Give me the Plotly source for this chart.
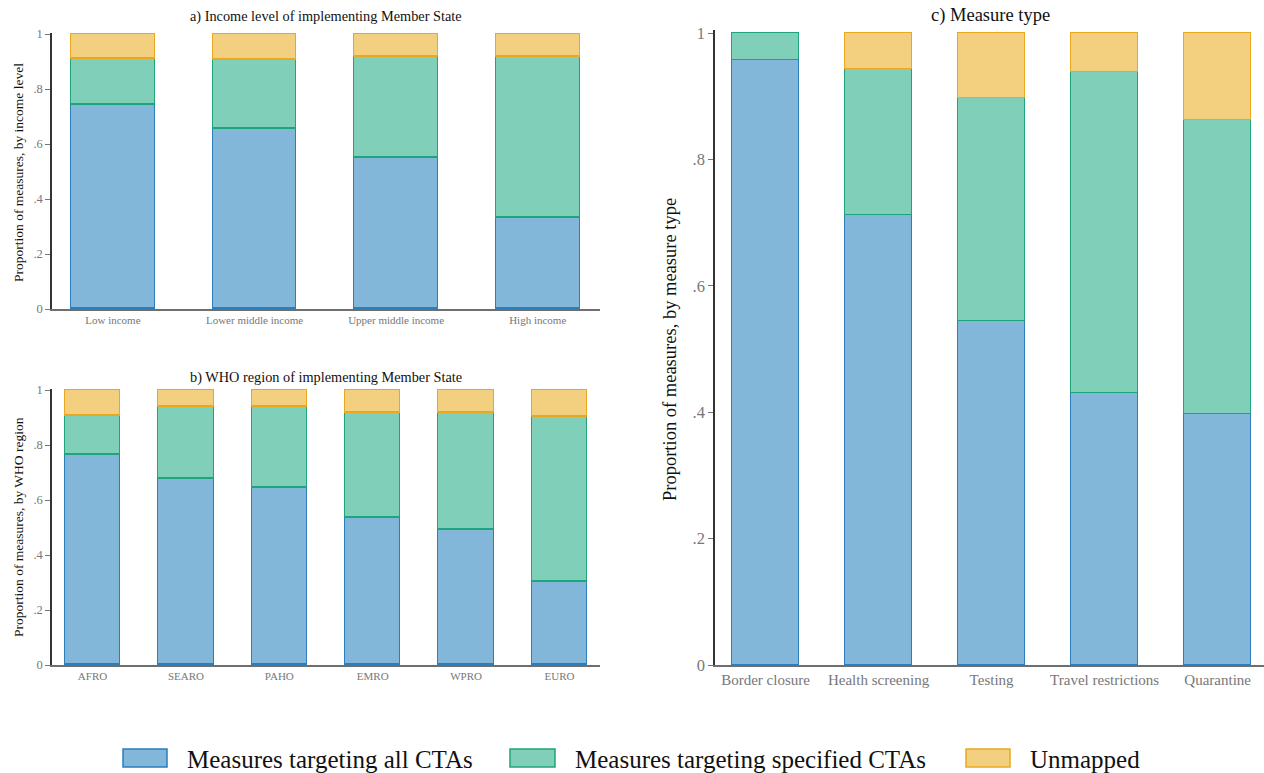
import plotly.graph_objects as go

# ---- data: share of measures in each category (stacked segments sum to 1) ----
income_levels = ["Low income", "Lower middle income", "Upper middle income", "High income"]
income_all = [0.742, 0.655, 0.549, 0.331]
income_specified = [0.167, 0.250, 0.369, 0.584]
income_unmapped = [0.091, 0.095, 0.082, 0.085]

who_regions = ["AFRO", "SEARO", "PAHO", "EMRO", "WPRO", "EURO"]
region_all = [0.764, 0.675, 0.645, 0.535, 0.493, 0.303]
region_specified = [0.141, 0.265, 0.292, 0.380, 0.422, 0.599]
region_unmapped = [0.095, 0.060, 0.063, 0.085, 0.085, 0.098]

measure_types = ["Border closure", "Health screening", "Testing", "Travel restrictions", "Quarantine"]
measure_all = [0.957, 0.712, 0.543, 0.430, 0.397]
measure_specified = [0.043, 0.231, 0.353, 0.507, 0.464]
measure_unmapped = [0.000, 0.057, 0.104, 0.063, 0.139]

y_ticks = [0, 0.2, 0.4, 0.6, 0.8, 1]
y_tick_text = ["0", ".2", ".4", ".6", ".8", "1"]

series_names = ["Measures targeting all CTAs", "Measures targeting specified CTAs", "Unmapped"]
fills = ["#82b7d9", "#80cfb8", "#f2d080"]
edges = ["#2b7dbc", "#1fa57b", "#eaa820"]

W, H = 1264, 773
SERIF = "Liberation Serif"


def px_x(x):
    return x / W


def px_y(y):
    return 1 - y / H


fig = go.Figure()

panels = [
    ("", income_levels, [income_all, income_specified, income_unmapped]),
    ("2", who_regions, [region_all, region_specified, region_unmapped]),
    ("3", measure_types, [measure_all, measure_specified, measure_unmapped]),
]
bar_width = 0.593

for suffix, cats, series in panels:
    for name, vals, fc, ec in zip(series_names, series, fills, edges):
        # empty segments get no outline so no stray edge is drawn
        line_widths = [0 if v == 0 else 1.5 for v in vals]
        fig.add_trace(go.Bar(
            x=cats, y=vals, name=name, width=bar_width,
            marker=dict(color=fc, line=dict(color=ec, width=line_widths)),
            xaxis="x" + suffix, yaxis="y" + suffix, showlegend=False,
        ))

top = 1.004


def yaxis_style(y0_px, y1_px, tick_size, anchor):
    # y1_px is where value 1 sits; extend the domain slightly above it
    span = y0_px - y1_px
    return dict(
        domain=[px_y(y0_px), px_y(y1_px - (top - 1) * span)],
        range=[0, top], tickvals=y_ticks, ticktext=y_tick_text, anchor=anchor,
        showgrid=False, zeroline=False, showline=True, linecolor="#333333", linewidth=1.5,
        ticks="outside", ticklen=5, tickcolor="#777777", tickwidth=1.2,
        tickfont=dict(family=SERIF, size=tick_size, color="#777777"),
        automargin=False,
    )


def xaxis_style(x0_px, x1_px, rng, tick_size, anchor):
    return dict(
        domain=[px_x(x0_px), px_x(x1_px)], range=rng, anchor=anchor,
        showgrid=False, zeroline=False, showline=True, linecolor="#6e6e6e", linewidth=1.5,
        ticks="", tickfont=dict(family=SERIF, size=tick_size, color="#777777"),
        automargin=False,
    )


fig.update_layout(
    width=W, height=H, margin=dict(l=0, r=0, t=0, b=0, pad=0), autosize=False,
    paper_bgcolor="white", plot_bgcolor="white",
    barmode="stack", bargap=0, showlegend=False,
    font=dict(family=SERIF),
    xaxis=xaxis_style(52, 600, [-0.43, 3.44], 11, "y"),
    yaxis=yaxis_style(309, 34, 12.5, "x"),
    xaxis2=xaxis_style(52, 600, [-0.434, 5.434], 11, "y2"),
    yaxis2=yaxis_style(665, 390, 12.5, "x2"),
    xaxis3=xaxis_style(715, 1264, [-0.447, 4.41], 15, "y3"),
    yaxis3=yaxis_style(665, 33, 16.5, "x3"),
)

annotations = [
    dict(text="a) Income level of implementing Member State", x=px_x(326), y=px_y(17), size=14.3),
    dict(text="b) WHO region of implementing Member State", x=px_x(326), y=px_y(377), size=14.3),
    dict(text="c) Measure type", x=px_x(990), y=px_y(15), size=18.5),
]
for a in annotations:
    fig.add_annotation(
        text=a["text"], x=a["x"], y=a["y"], xref="paper", yref="paper",
        xanchor="center", yanchor="middle", showarrow=False,
        font=dict(family=SERIF, size=a["size"], color="#111111"),
    )

y_titles = [
    ("Proportion of measures, by income level", 18, 173, 13.5),
    ("Proportion of measures, by WHO region", 18, 527, 13.5),
    ("Proportion of measures, by measure type", 670, 350, 18.5),
]
for text, xp, yp, size in y_titles:
    fig.add_annotation(
        text=text, x=px_x(xp), y=px_y(yp), xref="paper", yref="paper",
        xanchor="center", yanchor="middle", textangle=-90, showarrow=False,
        font=dict(family=SERIF, size=size, color="#111111"),
    )

# legend row along the bottom
legend_boxes = [(123, 167), (510, 555), (966, 1010)]
for (x0, x1), name, fc, ec in zip(legend_boxes, series_names, fills, edges):
    fig.add_shape(
        type="rect", xref="paper", yref="paper",
        x0=px_x(x0), x1=px_x(x1), y0=px_y(767), y1=px_y(749),
        fillcolor=fc, line=dict(color=ec, width=1.5),
    )
    fig.add_annotation(
        text=name, x=px_x(x1 + 18), y=px_y(759), xref="paper", yref="paper",
        xanchor="left", yanchor="middle", showarrow=False,
        font=dict(family=SERIF, size=25, color="#111111"),
    )

fig.write_html("out.html")
